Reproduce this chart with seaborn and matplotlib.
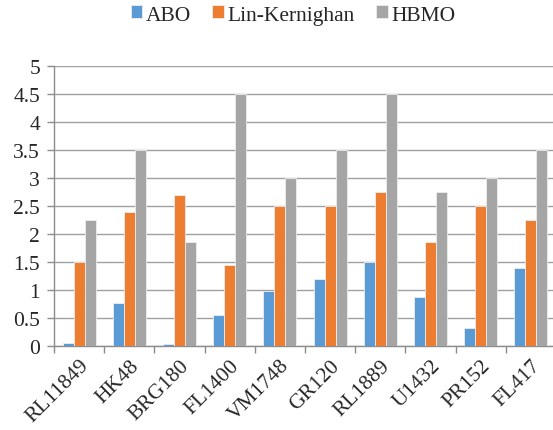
import numpy as np
import pandas as pd
import matplotlib
matplotlib.use("Agg")
import matplotlib.pyplot as plt
from matplotlib.ticker import FixedLocator
import seaborn as sns

# Benchmark instances and scores for each algorithm
instances = ["RL11849", "HK48", "BRG180", "FL1400", "VM1748",
             "GR120", "RL1889", "U1432", "PR152", "FL417"]
abo = [0.05, 0.77, 0.03, 0.55, 0.98, 1.2, 1.5, 0.87, 0.33, 1.4]
lin_kernighan = [1.5, 2.4, 2.7, 1.45, 2.5, 2.5, 2.75, 1.85, 2.5, 2.25]
hbmo = [2.25, 3.5, 1.85, 4.5, 3.0, 3.5, 4.5, 2.75, 3.0, 3.5]
series_names = ["ABO", "Lin-Kernighan", "HBMO"]
y_ticks = [0, 0.5, 1, 1.5, 2, 2.5, 3, 3.5, 4, 4.5, 5]
y_tick_labels = ["0", "0.5", "1", "1.5", "2", "2.5", "3", "3.5", "4", "4.5", "5"]

df = pd.DataFrame({
    "instance": instances * 3,
    "algorithm": [series_names[0]] * len(instances)
                 + [series_names[1]] * len(instances)
                 + [series_names[2]] * len(instances),
    "value": abo + lin_kernighan + hbmo,
})

sns.set_style("white")
plt.rcParams["font.family"] = ["Liberation Serif", "DejaVu Serif"]

fig = plt.figure(figsize=(5.53, 4.31), dpi=100)
ax = fig.add_axes([54 / 553, 1 - 347 / 431, 502 / 553, 280 / 431])

palette = {"ABO": "#5B9BD5", "Lin-Kernighan": "#ED7D31", "HBMO": "#A5A5A5"}
sns.barplot(data=df, x="instance", y="value", hue="algorithm",
            order=instances, hue_order=series_names, palette=palette,
            width=0.66, dodge=True, saturation=1, errorbar=None,
            edgecolor="#EDEDED", linewidth=0.6, zorder=3, ax=ax)

fs = 15.5
ax.set_ylim(0, 5)
ax.set_xlim(-0.5, len(instances) - 0.5)
ax.set_yticks(y_ticks)
ax.set_yticklabels(y_tick_labels, fontsize=fs)
ax.set_xticks(range(len(instances)))
ax.set_xticklabels(instances, fontsize=fs, rotation=45,
                   ha="right", rotation_mode="anchor")
ax.xaxis.set_minor_locator(FixedLocator(np.arange(-0.5, len(instances), 1.0)))
ax.tick_params(axis="x", which="major", length=0, pad=7)
ax.tick_params(axis="x", which="minor", length=5, width=1, color="#8C8C8C",
               direction="out", bottom=True)
ax.tick_params(axis="y", which="major", length=5, width=1, color="#8C8C8C",
               direction="out", left=True, pad=5)
ax.set_xlabel("")
ax.set_ylabel("")

ax.yaxis.grid(True, color="#A0A0A0", linewidth=1.0, zorder=0)
ax.set_axisbelow(True)
for side in ["top", "right"]:
    ax.spines[side].set_visible(False)
ax.spines["left"].set_color("#8C8C8C")
ax.spines["bottom"].set_color("#8C8C8C")
ax.spines["left"].set_linewidth(1.0)
ax.spines["bottom"].set_linewidth(1.0)

handles, labels = ax.get_legend_handles_labels()
ax.legend(handles, labels, loc="center", bbox_to_anchor=(293 / 553, 1 - 16 / 431),
          bbox_transform=fig.transFigure, ncol=3, frameon=False,
          fontsize=fs, handlelength=0.55, handleheight=0.55,
          handletextpad=0.15, columnspacing=1.0)

fig.savefig("out.png", dpi=100)
